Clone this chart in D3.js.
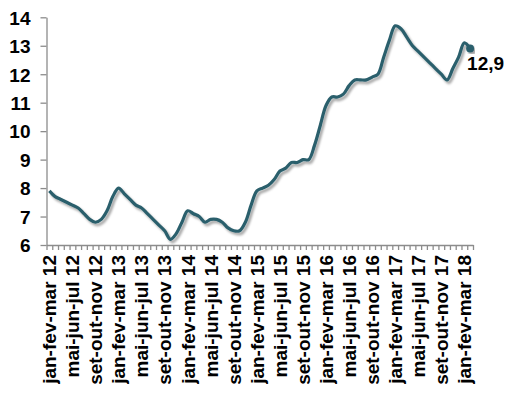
<!DOCTYPE html>
<html>
<head>
<meta charset="utf-8">
<script src="https://cdn.jsdelivr.net/npm/d3@7"></script>
<style>
  body { margin: 0; background: #fff; }
  svg text { font-family: "Liberation Sans", Arial, sans-serif; font-weight: bold; fill: #000; }
</style>
</head>
<body>
<div id="chart"></div>
<script>
// trimestres móveis, jan-fev-mar 2012 a fev-mar-abr 2018
var periodos = [
  "jan-fev-mar 12", "fev-mar-abr 12", "mar-abr-mai 12", "abr-mai-jun 12", "mai-jun-jul 12", "jun-jul-ago 12",
  "jul-ago-set 12", "ago-set-out 12", "set-out-nov 12", "out-nov-dez 12", "nov-dez-jan 13", "dez-jan-fev 13",
  "jan-fev-mar 13", "fev-mar-abr 13", "mar-abr-mai 13", "abr-mai-jun 13", "mai-jun-jul 13", "jun-jul-ago 13",
  "jul-ago-set 13", "ago-set-out 13", "set-out-nov 13", "out-nov-dez 13", "nov-dez-jan 14", "dez-jan-fev 14",
  "jan-fev-mar 14", "fev-mar-abr 14", "mar-abr-mai 14", "abr-mai-jun 14", "mai-jun-jul 14", "jun-jul-ago 14",
  "jul-ago-set 14", "ago-set-out 14", "set-out-nov 14", "out-nov-dez 14", "nov-dez-jan 15", "dez-jan-fev 15",
  "jan-fev-mar 15", "fev-mar-abr 15", "mar-abr-mai 15", "abr-mai-jun 15", "mai-jun-jul 15", "jun-jul-ago 15",
  "jul-ago-set 15", "ago-set-out 15", "set-out-nov 15", "out-nov-dez 15", "nov-dez-jan 16", "dez-jan-fev 16",
  "jan-fev-mar 16", "fev-mar-abr 16", "mar-abr-mai 16", "abr-mai-jun 16", "mai-jun-jul 16", "jun-jul-ago 16",
  "jul-ago-set 16", "ago-set-out 16", "set-out-nov 16", "out-nov-dez 16", "nov-dez-jan 17", "dez-jan-fev 17",
  "jan-fev-mar 17", "fev-mar-abr 17", "mar-abr-mai 17", "abr-mai-jun 17", "mai-jun-jul 17", "jun-jul-ago 17",
  "jul-ago-set 17", "ago-set-out 17", "set-out-nov 17", "out-nov-dez 17", "nov-dez-jan 18", "dez-jan-fev 18",
  "jan-fev-mar 18", "fev-mar-abr 18"
];

var taxa = [
  7.9, 7.7, 7.6, 7.5, 7.4, 7.3, 7.1, 6.9, 6.8, 6.9, 7.2, 7.7,
  8.0, 7.8, 7.6, 7.4, 7.3, 7.1, 6.9, 6.7, 6.5, 6.2, 6.4, 6.8,
  7.2, 7.1, 7.0, 6.8, 6.9, 6.9, 6.8, 6.6, 6.5, 6.5, 6.8, 7.4,
  7.9, 8.0, 8.1, 8.3, 8.6, 8.7, 8.9, 8.9, 9.0, 9.0, 9.5, 10.2,
  10.9, 11.2, 11.2, 11.3, 11.6, 11.8, 11.8, 11.8, 11.9, 12.0, 12.6, 13.2,
  13.7, 13.6, 13.3, 13.0, 12.8, 12.6, 12.4, 12.2, 12.0, 11.8, 12.2, 12.6,
  13.1, 12.9
];

var yTicks = [6, 7, 8, 9, 10, 11, 12, 13, 14];

var width = 508, height = 393;
var plotLeft = 46.5, plotRight = 473, plotTop = 17.3, plotBottom = 245;
var lineColor = "#2b5f6c", axisColor = "#8c8c8c";

var svg = d3.select("#chart").append("svg")
  .attr("width", width)
  .attr("height", height);

var defs = svg.append("defs");
var shadow = defs.append("filter").attr("id", "sombra")
  .attr("x", "-5%").attr("y", "-5%").attr("width", "110%").attr("height", "110%");
shadow.append("feDropShadow")
  .attr("dx", 2).attr("dy", 2.5)
  .attr("stdDeviation", 1.3)
  .attr("flood-color", "#000")
  .attr("flood-opacity", 0.35);

var x = d3.scaleBand().domain(periodos).range([plotLeft, plotRight]).padding(0);
var xPos = function(d) { return x(d) + x.bandwidth() / 2; };
var xEdges = d3.scaleLinear().domain([0, periodos.length]).range([plotLeft, plotRight]);
var y = d3.scaleLinear().domain([6, 14]).range([plotBottom, plotTop]);

// eixo y
var yAxis = svg.append("g")
  .attr("transform", "translate(" + plotLeft + ",0)")
  .call(d3.axisLeft(y).tickValues(yTicks).tickSize(6).tickSizeOuter(0).tickPadding(10));
yAxis.selectAll("text").style("font-size", "19px").attr("dy", "0.36em");

// marcas do eixo x entre categorias
var xTicks = svg.append("g")
  .attr("transform", "translate(0," + plotBottom + ")")
  .call(d3.axisBottom(xEdges).tickValues(d3.range(0, periodos.length + 1)).tickSize(5).tickSizeOuter(0).tickFormat(""));

// rótulos do eixo x, a cada 4 meses
var xAxis = svg.append("g")
  .attr("transform", "translate(0," + plotBottom + ")")
  .call(d3.axisBottom(x)
    .tickValues(periodos.filter(function(d, i) { return i % 4 === 0; }))
    .tickSize(0).tickSizeOuter(0));
xAxis.select(".domain").remove();
xAxis.selectAll("text")
  .style("font-size", "19px")
  .attr("text-anchor", "end")
  .attr("transform", "rotate(-90)")
  .attr("x", -10)
  .attr("y", 0)
  .attr("dy", "0.36em");

[yAxis, xTicks].forEach(function(g) {
  g.selectAll(".domain, line").attr("stroke", axisColor).attr("stroke-width", 1.3);
});

var serie = taxa.map(function(v, i) { return { p: periodos[i], v: v }; });

var line = d3.line()
  .x(function(d) { return xPos(d.p); })
  .y(function(d) { return y(d.v); })
  .curve(d3.curveCatmullRom.alpha(0.5));

svg.append("path")
  .datum(serie)
  .attr("d", line)
  .attr("fill", "none")
  .attr("stroke", lineColor)
  .attr("stroke-width", 3.2)
  .attr("stroke-linejoin", "round")
  .attr("filter", "url(#sombra)");

var ultimo = serie[serie.length - 1];
svg.append("circle")
  .attr("cx", xPos(ultimo.p))
  .attr("cy", y(ultimo.v))
  .attr("r", 4)
  .attr("fill", lineColor)
  .attr("filter", "url(#sombra)");

svg.append("text")
  .attr("x", xPos(ultimo.p) - 3)
  .attr("y", y(ultimo.v) + 21)
  .style("font-size", "19px")
  .text(String(ultimo.v).replace(".", ","));
</script>
</body>
</html>
